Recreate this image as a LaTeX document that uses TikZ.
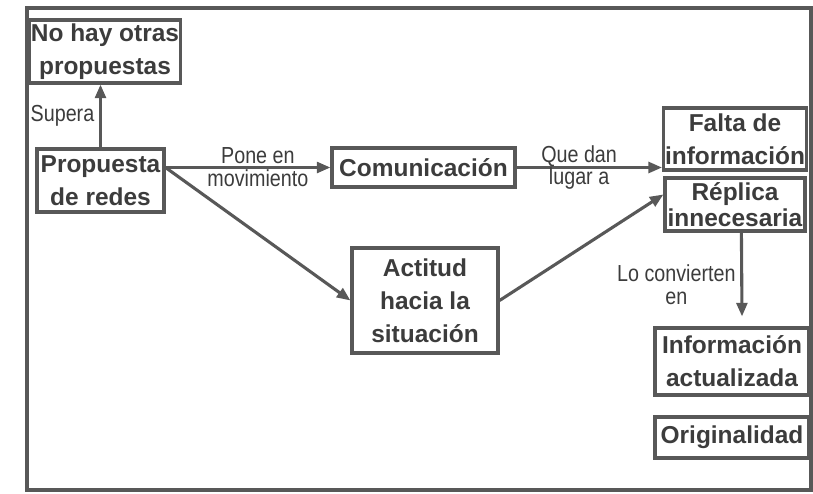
\documentclass[tikz,border=0pt]{standalone}
\usepackage{fontspec}
\setmainfont{Liberation Sans}
\newfontfamily\lblfont[FakeStretch=0.85]{Liberation Sans}
\usetikzlibrary{arrows.meta}
\definecolor{ink}{RGB}{60,60,60}
\definecolor{rule}{RGB}{88,88,88}
\begin{document}
\begin{tikzpicture}[
    font=\bfseries\fontsize{17.4}{23.5}\selectfont,
    box/.style={draw=rule, line width=2.2pt, text=ink, align=center, inner sep=1pt},
    arr/.style={-{Triangle[length=0.34cm, width=0.27cm]}, draw=rule, line width=2.2pt},
    lbl/.style={text=ink, align=center, font=\lblfont\fontsize{16.5}{16.2}\selectfont}
]
\useasboundingbox (0,0) rectangle (20.325,-12.325);

% Frame
\draw[rule, line width=2.2pt] (0.675,-0.2) rectangle (20.275,-12.25);

% Boxes
\node[box, minimum width=3.6cm,  minimum height=1.575cm] (nohay)   at (2.625,-1.2875)  {No hay otras\\propuestas};
\node[box, minimum width=3.175cm, minimum height=1.575cm] (prop)    at (2.5125,-4.5125) {Propuesta\\de redes};
\node[box, minimum width=4.575cm, minimum height=0.975cm] (comu)    at (10.5875,-4.1875) {Comunicación};
\node[box, minimum width=3.5cm,  minimum height=1.55cm]  (falta)   at (18.375,-3.475)  {Falta de\\información};
\node[box, minimum width=3.5cm,  minimum height=1.325cm,
      font=\bfseries\fontsize{17.4}{18.5}\selectfont]   (replica) at (18.375,-5.1125) {Réplica\\innecesaria};
\node[box, minimum width=3.65cm, minimum height=2.625cm] (actitud) at (10.625,-7.5125) {Actitud\\hacia la\\situación};
\node[box, minimum width=3.85cm, minimum height=1.675cm] (info)    at (18.3,-9.0375)   {Información\\actualizada};
\node[box, minimum width=3.85cm, minimum height=1.025cm] (orig)    at (18.3,-10.9375)  {Originalidad};

% Arrows
\draw[arr] (prop.north) -- node[lbl, left]{Supera} (prop.north |- nohay.south);
\draw[arr] (prop.east |- comu.west) -- node[lbl, pos=0.56]{Pone en\\movimiento} (comu.west);
\draw[arr] (comu.east) -- node[lbl, pos=0.43]{Que dan\\lugar a} (comu.east -| falta.west);
\draw[arr] (prop.east |- comu.west) -- (actitud.west);
\draw[arr] (actitud.east) -- (replica.172);
\draw[arr] ([xshift=0.16cm]replica.south) -- node[lbl, left, pos=0.62]{Lo convierten\\en} ([xshift=0.25cm, yshift=0.25cm]info.north);

\end{tikzpicture}
\end{document}
